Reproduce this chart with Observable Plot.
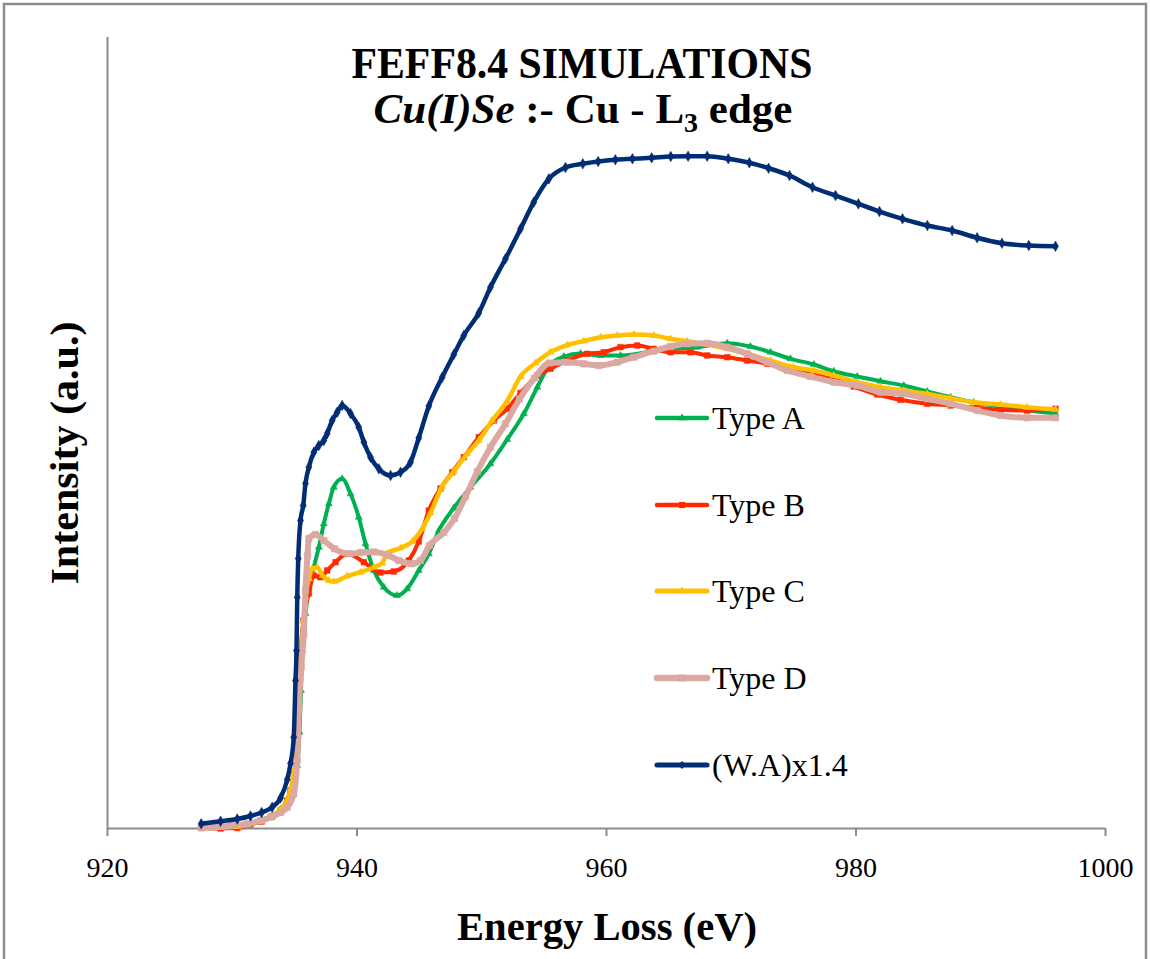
<!DOCTYPE html>
<html><head><meta charset="utf-8">
<script src="https://cdn.jsdelivr.net/npm/d3@7"></script>
<script src="https://cdn.jsdelivr.net/npm/@observablehq/plot@0.6"></script>
<style>
html,body{margin:0;padding:0;background:#fff;}
#chart{position:relative;width:1150px;height:959px;overflow:hidden;}
</style></head><body><div id="chart"></div>
<script>
// Energy loss (eV) and intensity (a.u.)
const energyA = [927.51,929.06,930.40,931.46,932.35,933.20,933.87,934.41,934.67,934.93,935.21,935.39,935.51,935.61,935.87,936.14,936.54,936.94,937.34,937.74,938.14,938.81,939.48,940.14,940.68,941.35,942.15,943.22,944.02,944.95,945.76,946.56,947.76,949.10,950.70,952.04,953.37,954.45,955.25,956.58,957.92,959.52,961.12,963.26,965.13,967.27,969.68,971.54,973.15,974.75,976.62,978.22,980.10,981.96,983.83,985.71,987.58,989.44,991.58,993.72,995.99];
const intensityA = [0.19,0.32,0.44,0.70,1.07,1.64,2.47,3.67,4.93,5.44,7.96,12.17,17.45,22.50,27.18,30.51,33.03,35.56,38.52,41.05,43.15,44.21,42.31,39.35,35.99,32.62,30.51,29.46,30.30,32.62,34.73,37.67,40.52,43.15,46.11,49.18,52.43,55.79,58.15,59.67,60.05,59.80,59.80,60.21,60.64,60.85,61.35,60.93,60.21,59.38,58.66,57.81,57.14,56.55,56.00,55.25,54.53,53.89,53.35,52.84,52.50];

const energyB = [927.51,929.06,930.40,931.46,932.35,933.20,933.87,934.41,934.67,934.93,935.21,935.35,935.47,935.71,936.14,936.54,937.07,937.61,938.28,939.21,940.55,941.88,942.95,944.15,944.95,945.76,946.69,947.63,948.56,949.76,950.97,952.04,953.11,954.45,955.51,956.85,958.45,959.78,961.12,962.46,963.79,965.13,966.73,968.07,969.68,971.28,972.88,974.49,976.35,978.22,979.82,981.70,983.57,985.71,987.58,989.72,991.58,993.72,995.99];
const intensityB = [0.06,0.00,0.06,0.51,0.88,1.52,2.28,3.54,4.80,6.83,10.49,15.55,22.12,26.30,29.71,31.98,31.77,32.62,33.67,34.73,33.67,32.36,32.49,33.88,36.28,40.20,42.98,45.04,46.94,49.47,51.58,53.06,55.06,57.27,58.12,59.16,60.01,60.21,60.85,61.06,60.64,60.21,60.21,59.80,59.58,59.16,58.75,58.12,57.48,56.85,55.88,54.87,54.20,53.69,53.48,53.18,52.93,52.84,53.06];

const energyC = [927.51,929.06,930.40,931.46,932.35,933.20,933.87,934.41,934.67,934.93,935.21,935.35,935.51,935.71,935.87,936.15,936.41,936.81,937.23,937.74,938.14,939.21,940.28,941.35,942.02,942.42,943.49,944.43,945.23,945.89,946.83,947.76,948.83,949.76,950.84,952.04,953.11,954.31,955.51,956.85,958.18,959.52,960.86,962.19,963.79,965.13,966.47,968.07,969.68,971.28,973.15,975.01,976.62,978.22,980.10,981.96,983.83,985.71,987.58,989.44,991.58,993.72,995.99];
const intensityC = [0.13,0.13,0.25,0.57,0.95,1.58,2.40,3.60,4.87,6.95,10.49,15.55,21.24,26.30,29.24,31.61,32.83,33.00,31.98,31.35,31.23,31.92,32.40,33.03,33.54,34.77,35.46,36.28,37.89,39.89,43.24,45.13,47.37,49.05,51.58,54.04,57.14,58.85,60.24,61.12,61.63,62.11,62.33,62.45,62.33,61.91,61.60,61.19,60.64,60.01,59.16,58.32,57.90,57.27,56.42,55.79,55.37,54.95,54.40,53.89,53.60,53.26,52.97];

const energyD = [927.51,928.52,929.86,931.20,932.26,933.07,933.87,934.41,934.93,935.21,935.33,935.53,935.74,935.87,936.03,936.14,936.67,937.34,938.20,939.40,940.28,941.35,942.53,943.35,944.37,945.09,945.81,946.96,947.82,948.70,949.64,950.70,951.90,953.03,954.23,955.43,956.85,958.18,959.38,960.86,962.19,963.79,965.13,966.47,968.07,969.68,971.28,972.88,974.49,976.35,978.22,980.10,981.96,983.83,985.71,987.58,989.72,991.58,993.72,995.99];
const intensityD = [0.13,0.16,0.38,0.59,1.01,1.43,2.02,2.69,4.39,8.60,14.92,20.39,24.61,30.09,34.51,36.66,37.17,36.41,35.36,34.73,34.89,34.96,34.51,33.88,33.46,33.88,35.78,37.42,39.19,41.97,45.13,48.21,51.16,54.30,56.95,58.85,58.95,58.75,58.53,58.95,59.58,60.34,60.93,61.28,61.35,60.85,60.01,58.95,57.90,57.14,56.42,56.00,55.16,54.95,54.32,53.69,52.84,52.21,51.92,51.92];

const energyWA = [927.51,929.06,930.40,931.46,932.35,933.20,933.87,934.41,934.67,934.93,935.07,935.15,935.21,935.29,935.47,935.69,935.87,936.14,936.54,936.94,937.34,937.61,938.01,938.41,938.81,939.48,940.14,940.55,941.08,941.75,942.69,943.49,944.29,944.95,945.76,946.83,947.76,948.56,949.76,950.70,951.90,953.11,954.17,955.38,956.71,958.10,959.33,960.71,962.08,963.62,965.15,966.54,968.07,969.76,971.45,972.99,974.67,976.51,978.36,980.19,981.88,983.73,985.72,987.71,989.71,991.70,993.85,995.99];
const intensityWA = [0.59,0.92,1.20,1.58,2.02,2.69,3.86,6.19,8.22,11.54,18.71,22.50,29.24,34.13,38.94,40.83,43.61,45.68,47.57,48.42,49.05,49.94,51.58,52.63,53.48,52.46,50.73,48.84,46.94,45.47,44.63,45.04,46.31,49.37,53.41,57.05,59.92,62.33,65.17,68.43,72.02,75.81,79.18,82.13,83.56,84.03,84.32,84.54,84.66,84.79,84.95,84.99,84.99,84.66,84.16,83.48,82.55,81.07,80.02,78.97,78.00,77.08,76.23,75.60,74.68,73.99,73.70,73.61];

const seriesNames = ["Type A", "Type B", "Type C", "Type D", "(W.A)x1.4"];
const xTicks = [920, 940, 960, 980, 1000];
const titleLine1 = "FEFF8.4 SIMULATIONS";
const xLabel = "Energy Loss (eV)";
const yLabel = "Intensity (a.u.)";

const seriesStyle = [
  {color: "#00B050", width: 4,   symbol: "triangle", r: 2.6},
  {color: "#FF2A00", width: 4,   symbol: "square",   r: 3.2},
  {color: "#FFC000", width: 4.5, symbol: "triangle", r: 2.6},
  {color: "#DBA8A2", width: 6,   symbol: "square",   r: 3.6},
  {color: "#002D74", width: 4.5, symbol: "diamond",  r: 3.2}
];
const xs = [energyA, energyB, energyC, energyD, energyWA];
const ys = [intensityA, intensityB, intensityC, intensityD, intensityWA];
const series = seriesNames.map((name, k) => ({
  name, ...seriesStyle[k],
  rows: xs[k].map((e, i) => ({e, v: ys[k][i]}))
}));

const chart = Plot.plot({
  width: 1150, height: 959,
  marginLeft: 107, marginRight: 45, marginTop: 37, marginBottom: 131,
  style: {fontFamily: "Liberation Serif", fontSize: "28px", color: "black", background: "white", overflow: "visible"},
  x: {domain: [920, 1000], ticks: xTicks, tickFormat: d => String(d), tickSize: 8, tickPadding: 21, label: null},
  y: {domain: [0, 100], axis: null},
  marks: [
    Plot.ruleY([0], {stroke: "#8c8c8c", strokeWidth: 2}),
    Plot.ruleX([920], {stroke: "#8c8c8c", strokeWidth: 2}),
    ...series.flatMap(s => [
      Plot.line(s.rows, {x: "e", y: "v", stroke: s.color, strokeWidth: s.width, curve: "monotone-x", strokeLinejoin: "round", strokeLinecap: "round"}),
      Plot.dot(s.rows, {x: "e", y: "v", fill: s.color, stroke: s.color, strokeWidth: 0.5, symbol: s.symbol, r: s.r})
    ])
  ]
});
document.getElementById("chart").appendChild(chart);

const svg = d3.select(chart);
// axis styling: all text produced by Plot here is the x tick labels
svg.selectAll("g").filter(function() { return this.getAttribute("font-size") != null; })
  .attr("font-size", null);
svg.selectAll("text").attr("fill", "black").attr("font-size", null)
  .style("font-size", "28px").style("font-family", "Liberation Serif");
svg.selectAll("line, path").filter(function() {
  const p = this.parentNode && this.parentNode.getAttribute("aria-label");
  return p && p.startsWith("x-axis");
}).attr("stroke", "#8c8c8c").attr("stroke-width", 2);
svg.selectAll("g.tick line").attr("stroke", "#8c8c8c").attr("stroke-width", 2);

// outer frame
svg.append("rect").attr("x", 4).attr("y", 4).attr("width", 1142).attr("height", 1000)
  .attr("fill", "none").attr("stroke", "#8c8c8c").attr("stroke-width", 2.5);

const serif = "Liberation Serif";
// titles
svg.append("text").attr("x", 582).attr("y", 78).attr("text-anchor", "middle")
  .attr("font-family", serif).attr("font-weight", "bold").attr("font-size", 44)
  .attr("textLength", 461).attr("lengthAdjust", "spacingAndGlyphs").text(titleLine1);
const t2 = svg.append("text").attr("x", 583).attr("y", 123).attr("text-anchor", "middle")
  .attr("font-family", serif).attr("font-weight", "bold").attr("font-size", 43);
t2.append("tspan").attr("font-style", "italic").text("Cu(I)Se");
t2.append("tspan").text(" :- Cu - L");
t2.append("tspan").attr("font-size", 28).attr("dy", 9).text("3");
t2.append("tspan").attr("dy", -9).text(" edge");

// axis titles
svg.append("text").attr("x", 607).attr("y", 940).attr("text-anchor", "middle")
  .attr("font-family", serif).attr("font-weight", "bold").attr("font-size", 40)
  .attr("textLength", 300).attr("lengthAdjust", "spacingAndGlyphs").text(xLabel);
svg.append("text").attr("transform", "translate(78,453) rotate(-90)").attr("text-anchor", "middle")
  .attr("font-family", serif).attr("font-weight", "bold").attr("font-size", 40)
  .attr("textLength", 263).attr("lengthAdjust", "spacingAndGlyphs").text(yLabel);

// legend
const legendY = [418, 505, 591, 678, 765];
const sym = {triangle: d3.symbolTriangle, square: d3.symbolSquare, diamond: d3.symbolDiamond2};
series.forEach((s, k) => {
  const g = svg.append("g").attr("transform", `translate(657,${legendY[k]})`);
  g.append("line").attr("x1", 0).attr("x2", 50).attr("y1", 0).attr("y2", 0)
    .attr("stroke", s.color).attr("stroke-width", s.width + 0.5).attr("stroke-linecap", "round");
  g.append("path").attr("transform", "translate(25,0)")
    .attr("d", d3.symbol(sym[s.symbol], Math.PI * s.r * s.r * 1.2)())
    .attr("fill", s.color);
  g.append("text").attr("x", 55).attr("y", 11).attr("text-anchor", "start").attr("font-family", serif)
    .attr("font-size", 32).attr("fill", "black").text(s.name);
});
</script>
</body></html>
